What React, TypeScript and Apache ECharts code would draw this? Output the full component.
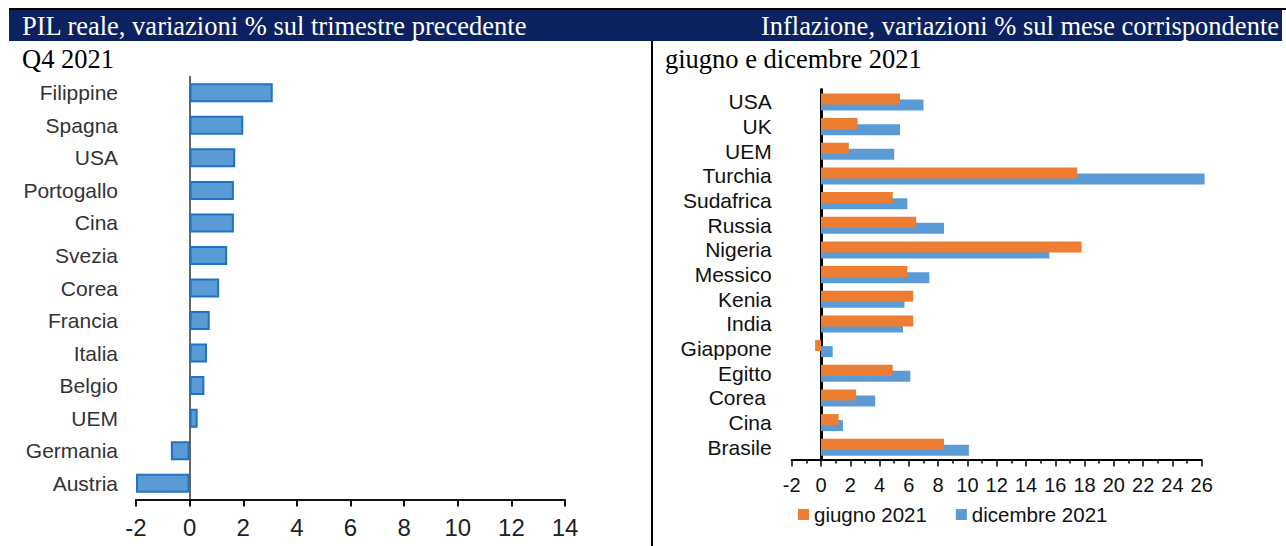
import React, { useEffect, useRef } from "react";
import * as echarts from "echarts";

const gdpCategories = ["Filippine", "Spagna", "USA", "Portogallo", "Cina", "Svezia", "Corea", "Francia", "Italia", "Belgio", "UEM", "Germania", "Austria"];
const gdpValues = [3.1, 2.0, 1.7, 1.65, 1.65, 1.4, 1.1, 0.75, 0.65, 0.55, 0.3, -0.7, -2.0];

const inflCategories = ["USA", "UK", "UEM", "Turchia", "Sudafrica", "Russia", "Nigeria", "Messico", "Kenia", "India", "Giappone", "Egitto", "Corea ", "Cina", "Brasile"];
const inflJune = [5.4, 2.5, 1.9, 17.5, 4.9, 6.5, 17.8, 5.9, 6.3, 6.3, -0.4, 4.9, 2.4, 1.2, 8.4];
const inflDec = [7.0, 5.4, 5.0, 26.2, 5.9, 8.4, 15.6, 7.4, 5.7, 5.6, 0.8, 6.1, 3.7, 1.5, 10.1];

const seriesNames = ["giugno 2021", "dicembre 2021"];
const leftTicks = { min: -2, max: 14, interval: 2 };
const rightTicks = { min: -2, max: 26, interval: 2 };

const SANS = "'Liberation Sans', Arial, sans-serif";
const SERIF = "'Liberation Serif', 'Times New Roman', serif";

export default function App() {
  const ref = useRef<HTMLDivElement>(null);
  useEffect(() => {
    if (!ref.current) return;
    const chart = echarts.init(ref.current, null, { renderer: "svg" });
    chart.setOption({
      animation: false,
      backgroundColor: "#ffffff",
      grid: [
        { left: 136, top: 76.5, width: 429, height: 423, outerBoundsMode: "none", containLabel: false },
        { left: 791.7, top: 89.6, width: 410, height: 370, outerBoundsMode: "none", containLabel: false },
      ],
      legend: {
        data: seriesNames,
        left: 793,
        top: 499,
        itemWidth: 11,
        itemHeight: 11,
        itemGap: 29,
        icon: "rect",
        textStyle: { fontFamily: SANS, fontSize: 20.5, color: "#111" },
      },
      xAxis: [
        {
          gridIndex: 0,
          type: "value",
          ...leftTicks,
          axisLine: { show: true, onZero: false, lineStyle: { color: "#111", width: 2 } },
          axisTick: { show: true, length: 7, lineStyle: { color: "#111", width: 2 } },
          splitLine: { show: false },
          axisLabel: { fontFamily: SANS, fontSize: 24, color: "#222", margin: 16 },
        },
        {
          gridIndex: 1,
          type: "value",
          ...rightTicks,
          axisLine: { show: true, onZero: false, lineStyle: { color: "#000", width: 2 } },
          axisTick: { show: true, length: 7, lineStyle: { color: "#000", width: 1.5 } },
          minorTick: { show: true, splitNumber: 2, length: 4, lineStyle: { color: "#000", width: 1.5 } },
          splitLine: { show: false },
          axisLabel: { fontFamily: SANS, fontSize: 20, color: "#111", margin: 15, hideOverlap: false },
        },
      ],
      yAxis: [
        {
          gridIndex: 0,
          type: "category",
          inverse: true,
          data: gdpCategories,
          axisLine: { show: true, onZero: true, lineStyle: { color: "#333", width: 1.5 } },
          axisTick: { show: false },
          axisLabel: { fontFamily: SANS, fontSize: 21, color: "#333", margin: 18, interval: 0 },
        },
        {
          gridIndex: 1,
          type: "category",
          inverse: true,
          data: inflCategories,
          axisLine: { show: true, onZero: true, lineStyle: { color: "#000", width: 3 } },
          axisTick: { show: false },
          axisLabel: { fontFamily: SANS, fontSize: 21, color: "#111", margin: 20, interval: 0, hideOverlap: false },
        },
      ],
      series: [
        {
          type: "bar",
          xAxisIndex: 0,
          yAxisIndex: 0,
          data: gdpValues,
          barWidth: 19,
          itemStyle: { color: "#5b9bd5", borderColor: "#1f72c4", borderWidth: 2 },
        },
        {
          name: seriesNames[0],
          type: "bar",
          xAxisIndex: 1,
          yAxisIndex: 1,
          data: inflJune,
          barWidth: 11,
          barGap: "-45%",
          z: 3,
          itemStyle: { color: "#ed7d31" },
        },
        {
          name: seriesNames[1],
          type: "bar",
          xAxisIndex: 1,
          yAxisIndex: 1,
          data: inflDec,
          barWidth: 11,
          barGap: "-45%",
          z: 2,
          clip: false,
          itemStyle: { color: "#5b9bd5" },
        },
      ],
      graphic: [
        { type: "rect", shape: { x: 9, y: 8, width: 1277, height: 2 }, style: { fill: "#000" } },
        { type: "rect", shape: { x: 9, y: 10, width: 1273, height: 31 }, style: { fill: "#0c2260" } },
        {
          type: "text",
          x: 22,
          y: 26,
          style: { text: "PIL reale, variazioni % sul trimestre precedente", fill: "#fff", font: `26.5px ${SERIF}`, verticalAlign: "middle" },
        },
        {
          type: "text",
          x: 1279,
          y: 26,
          style: { text: "Inflazione, variazioni % sul mese corrispondente", fill: "#fff", font: `26.5px ${SERIF}`, textAlign: "right", verticalAlign: "middle" },
        },
        { type: "text", x: 22, y: 59, style: { text: "Q4 2021", fill: "#000", font: `26.5px ${SERIF}`, verticalAlign: "middle" } },
        { type: "text", x: 665, y: 59, style: { text: "giugno e dicembre 2021", fill: "#000", font: `26.5px ${SERIF}`, verticalAlign: "middle" } },
        { type: "rect", shape: { x: 651, y: 41, width: 2, height: 505 }, style: { fill: "#000" } },
      ],
    });
    return () => chart.dispose();
  }, []);
  return <div ref={ref} style={{ position: "fixed", left: 0, top: 0, width: 1286, height: 546 }} />;
}
